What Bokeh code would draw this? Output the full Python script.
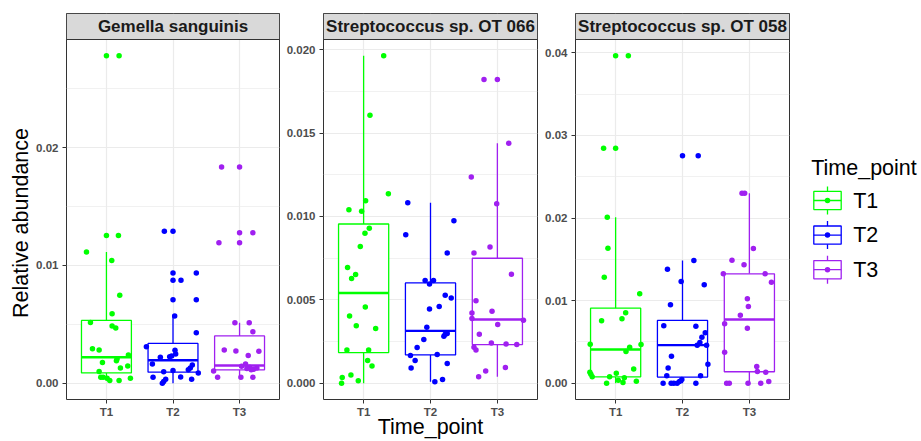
import numpy as np
from bokeh.plotting import figure
from bokeh.models import (Range1d, FixedTicker, PrintfTickFormatter, BoxAnnotation,
                          Label, ColumnDataSource)
from bokeh.layouts import row
from bokeh.embed import file_html
from bokeh.resources import INLINE
from bokeh.core.properties import value

# ---------------- data ----------------
time_points = ["T1", "T2", "T3"]
tp_colors = ["#00FF00", "#0000FF", "#A020F0"]
legend_title = "Time_point"
y_title = "Relative abundance"
x_title = "Time_point"

# Panel 1: Gemella sanguinis
gs_name = "Gemella sanguinis"
gs_T1 = [0.0278, 0.01254, 0.01113, 0.01042, 0.00747, 0.00589, 0.00516, 0.00485, 0.00468,
         0.00293, 0.00282, 0.00240, 0.00208, 0.00191, 0.00175, 0.00146, 0.00129, 0.00098,
         0.00051, 0.00051, 0.00042, 0.00022, 0.00022, 0.00042]
gs_T1_jit = [0.19, 0.18, -0.30, 0.08, 0.20, 0.085, -0.24, 0.085, 0.14,
             -0.21, -0.11, 0.33, 0.16, 0.15, -0.06, 0.32, 0.21, -0.11,
             -0.085, -0.05, 0.01, 0.05, 0.19, 0.36]
gs_T2 = [0.0129, 0.00936, 0.00873, 0.00709, 0.0057, 0.00428, 0.00310, 0.00279, 0.00248,
         0.00231, 0.00225, 0.0022, 0.00163, 0.00155, 0.00129, 0.00113, 0.00096, 0.00107,
         0.00087, 0.00051, 0.00053, 0.00034, 0.00034, 0.00014, 0.0]
gs_T2_jit = [-0.13, 0.35, 0.12, 0.35, 0.025, 0.35, -0.40, 0.03, 0.04,
             -0.02, -0.05, -0.19, -0.31, 0.29, 0.26, 0.23, -0.14, 0.0,
             0.38, -0.30, 0.115, 0.28, -0.11, -0.14, -0.16]
gs_T3 = [0.01836, 0.01277, 0.01193, 0.00513, 0.00513, 0.00437, 0.00282, 0.00273, 0.0027,
         0.00234, 0.00163, 0.00144, 0.00135, 0.00118, 0.00129, 0.00113, 0.00124, 0.00104,
         0.00051, 0.00051, 0.00051]
gs_T3_jit = [-0.27, 0.20, -0.31, -0.07, 0.145, 0.20, -0.23, -0.055, 0.29,
             0.13, 0.09, 0.03, 0.15, 0.21, 0.26, 0.175, 0.11, -0.39,
             -0.33, 0.02, 0.20]
gs_q1 = [0.00087, 0.00093, 0.00113]
gs_med = [0.0022, 0.00195, 0.0015]
gs_q3 = [0.00533, 0.00337, 0.00401]
gs_wlo = [0.00022, 0.0, 0.00051]
gs_whi = [0.01113, 0.0057, 0.00513]
gs_ticks = [0.0, 0.01, 0.02]
gs_minor = [0.005, 0.015, 0.025]

# Panel 2: Streptococcus sp. OT 066
s66_name = "Streptococcus sp. OT 066"
s66_T1 = [0.01962, 0.01607, 0.01136, 0.01094, 0.01041, 0.01032, 0.00929, 0.00899, 0.00821,
          0.00694, 0.00652, 0.00628, 0.00458, 0.00404, 0.00345, 0.00329, 0.00201, 0.00201,
          0.00138, 0.00105, 0.0005, 0.00036, 0.00016, 0.00002]
s66_T1_jit = [0.30, 0.095, 0.37, 0.03, -0.22, -0.03, 0.085, 0.02, -0.05,
              -0.24, -0.12, -0.18, 0.025, -0.21, -0.11, 0.18, -0.25, 0.075,
              0.06, 0.125, -0.19, -0.32, -0.08, -0.33]
s66_T2 = [0.01083, 0.00975, 0.00891, 0.00781, 0.00616, 0.00616, 0.00596, 0.00528, 0.00512,
          0.00461, 0.00446, 0.00337, 0.00295, 0.00299, 0.00283, 0.00263, 0.00215, 0.00173,
          0.00167, 0.00138, 0.0012, 0.00093, 0.00024, 0.0001]
s66_T2_jit = [-0.34, 0.35, -0.37, 0.25, -0.08, 0.045, -0.015, 0.22, 0.31,
              0.13, -0.015, -0.055, 0.22, 0.25, 0.20, -0.10, -0.20, 0.10,
              -0.30, -0.23, 0.25, -0.29, 0.18, 0.065]
s66_T3 = [0.0182, 0.01439, 0.01236, 0.01077, 0.00817, 0.00781, 0.00654, 0.00496, 0.00432,
          0.00422, 0.00389, 0.00379, 0.00353, 0.00295, 0.00243, 0.00237, 0.00233, 0.00217,
          0.00201, 0.00096, 0.00075, 0.0004]
s66_T3_jit = [-0.20, 0.17, -0.39, -0.01, -0.11, -0.35, 0.21, -0.32, -0.08,
              -0.38, -0.38, 0.39, 0.005, -0.27, -0.09, 0.13, 0.29, -0.35,
              -0.32, 0.12, -0.175, -0.28]
s66_q1 = [0.00185, 0.00171, 0.00233]
s66_med = [0.00542, 0.00315, 0.00383]
s66_q3 = [0.00955, 0.00602, 0.0075]
s66_wlo = [0.00002, 0.0001, 0.0004]
s66_whi = [0.01962, 0.01083, 0.01439]
s66_ticks = [0.0, 0.005, 0.010, 0.015, 0.020]
s66_minor = [0.0025, 0.0075, 0.0125, 0.0175]

# Panel 3: Streptococcus sp. OT 058
s58_name = "Streptococcus sp. OT 058"
s58_T1 = [0.03964, 0.02845, 0.0201, 0.01634, 0.01283, 0.01082, 0.00852, 0.00779, 0.00755,
          0.00472, 0.00468, 0.00436, 0.00384, 0.0017, 0.00133, 0.00109, 0.00077, 0.00077,
          0.00121, 0.00065, 0.00036, 0.00008, 0.00024, 0.0]
s58_T1_jit = [0.19, -0.18, -0.125, -0.115, -0.17, 0.36, 0.15, 0.095, -0.21,
              -0.38, 0.38, 0.21, 0.155, 0.27, -0.385, -0.37, -0.35, -0.09,
              0.01, 0.13, 0.04, 0.11, 0.31, -0.135]
s58_T2 = [0.02753, 0.01486, 0.0138, 0.01231, 0.01191, 0.00949, 0.00695, 0.0069, 0.0061,
          0.00557, 0.00493, 0.0046, 0.0046, 0.0023, 0.00327, 0.00182, 0.0009, 0.0009,
          0.0, 0.0, 0.0, 0.0, 0.0002, 0.00045, 0.0]
s58_T2_jit = [0.235, 0.17, -0.225, -0.02, 0.325, -0.18, -0.28, 0.20, 0.34,
              0.29, 0.26, 0.22, 0.36, 0.38, -0.165, -0.215, -0.235, 0.27,
              -0.29, -0.17, -0.13, -0.08, -0.045, -0.01, 0.20]
s58_T3 = [0.023, 0.023, 0.01631, 0.01489, 0.01433, 0.01324, 0.01324, 0.01223, 0.01021,
          0.00929, 0.00823, 0.00719, 0.00666, 0.00375, 0.00202, 0.00142, 0.00133, 0.0,
          0.0, 0.0, 0.0, 0.0002]
s58_T3_jit = [-0.11, -0.07, 0.06, -0.26, -0.08, -0.39, 0.235, 0.33, -0.03,
              -0.015, -0.135, -0.37, -0.03, -0.37, 0.11, 0.12, 0.245, -0.34,
              -0.30, -0.02, 0.17, 0.29]
s58_q1 = [0.00077, 0.00073, 0.00138]
s58_med = [0.00408, 0.0046, 0.00771]
s58_q3 = [0.00908, 0.00759, 0.01324]
s58_wlo = [0.0, 0.0, 0.0]
s58_whi = [0.0201, 0.01486, 0.023]
s58_ticks = [0.0, 0.01, 0.02, 0.03, 0.04]
s58_minor = [0.005, 0.015, 0.025, 0.035]

# ---------------- layout / style constants ----------------
FONT = "Liberation Sans"
FIG_H = 441
TOP_B = 13
BOT_B = 42
FRAME_H = FIG_H - TOP_B - BOT_B
STRIP_H = 26
DATA_H = FRAME_H - STRIP_H
FRAME_W = 214
BOX_HALF = 0.375
PT_SIZE = 5.5
GRID_C = "#EBEBEB"
BORDER_C = "#333333"
TITLE_SIZE = "21.5px"


def build_panel(name, vals, jits, q1, med, q3, wlo, whi, ticks, minor, fmt, left_border):
    all_vals = np.concatenate([np.asarray(v, float) for v in vals] +
                              [np.asarray(a, float) for a in (q1, q3, wlo, whi)])
    lo, hi = all_vals.min(), all_vals.max()
    pad = 0.05 * (hi - lo)
    ylo, yhi = lo - pad, hi + pad
    ytop = yhi + (yhi - ylo) * STRIP_H / DATA_H

    f = figure(width=left_border + FRAME_W + 1, height=FIG_H,
               x_range=Range1d(0.4, 3.6), y_range=Range1d(ylo, ytop),
               output_backend="svg", toolbar_location=None, title=None,
               min_border_left=left_border, min_border_right=1,
               min_border_top=TOP_B, min_border_bottom=BOT_B,
               background_fill_color="white", border_fill_color="white",
               outline_line_color=BORDER_C, outline_line_width=1)

    xs = list(range(1, len(time_points) + 1))
    f.xaxis.ticker = FixedTicker(ticks=xs)
    f.xaxis.major_label_overrides = {x: t for x, t in zip(xs, time_points)}
    f.yaxis.ticker = FixedTicker(ticks=ticks, minor_ticks=minor)
    f.yaxis.formatter = PrintfTickFormatter(format=fmt)
    for ax in (f.xaxis, f.yaxis):
        ax.axis_line_color = None
        ax.major_tick_line_color = BORDER_C
        ax.major_tick_line_width = 1
        ax.major_tick_out = 4
        ax.major_tick_in = 0
        ax.minor_tick_line_color = None
        ax.major_label_text_font = FONT
        ax.major_label_text_font_size = "11.5px"
        ax.major_label_text_font_style = "bold"
        ax.major_label_text_color = "#4D4D4D"
    f.xaxis.major_label_standoff = 2
    f.yaxis.major_label_standoff = 4
    f.xgrid.grid_line_color = GRID_C
    f.xgrid.grid_line_width = 1.2
    f.ygrid.grid_line_color = GRID_C
    f.ygrid.grid_line_width = 1.2
    f.ygrid.minor_grid_line_color = GRID_C
    f.ygrid.minor_grid_line_width = 0.7

    src = ColumnDataSource(dict(
        x=xs, left=[x - BOX_HALF for x in xs], right=[x + BOX_HALF for x in xs],
        q1=q1, med=med, q3=q3, wlo=wlo, whi=whi, color=tp_colors))
    f.segment(x0="x", y0="q3", x1="x", y1="whi", line_color="color", line_width=1.3, source=src)
    f.segment(x0="x", y0="q1", x1="x", y1="wlo", line_color="color", line_width=1.3, source=src)
    f.quad(left="left", right="right", bottom="q1", top="q3", fill_color="white",
           line_color="color", line_width=1.3, source=src)
    f.segment(x0="left", y0="med", x1="right", y1="med", line_color="color",
              line_width=2.4, source=src)

    # outliers drawn by the boxplot at the category centre
    ox, oy, oc = [], [], []
    for i, v in enumerate(vals):
        for y in v:
            if y > whi[i] or y < wlo[i]:
                ox.append(xs[i]); oy.append(y); oc.append(tp_colors[i])
    f.scatter(x=ox, y=oy, color=oc, size=PT_SIZE, line_color=None)

    # jittered points
    jx, jy, jc = [], [], []
    for i, (v, j) in enumerate(zip(vals, jits)):
        for y, d in zip(v, j):
            jx.append(xs[i] + d); jy.append(y); jc.append(tp_colors[i])
    f.scatter(x=jx, y=jy, color=jc, size=PT_SIZE, line_color=None)

    # facet strip
    f.add_layout(BoxAnnotation(bottom=yhi, fill_color="#D9D9D9", fill_alpha=1.0,
                               line_color=BORDER_C, line_alpha=1.0, line_width=1))
    f.add_layout(Label(x=2, y=(yhi + ytop) / 2, text=name, text_font=FONT,
                       text_font_size="17px", text_font_style="bold", text_color="#1A1A1A",
                       text_align="center", text_baseline="middle"))
    return f, ylo, yhi


def blank_fig(width, height, x_range, y_range, top=0, bottom=0, left=0, right=0):
    b = figure(width=width, height=height, output_backend="svg", toolbar_location=None,
               title=None, x_range=x_range, y_range=y_range,
               x_axis_location=None, y_axis_location=None,
               min_border_left=left, min_border_right=right,
               min_border_top=top, min_border_bottom=bottom,
               outline_line_color=None, background_fill_color="white",
               border_fill_color="white")
    b.grid.visible = False
    return b


f1, ylo1, yhi1 = build_panel(gs_name, [gs_T1, gs_T2, gs_T3], [gs_T1_jit, gs_T2_jit, gs_T3_jit],
                             gs_q1, gs_med, gs_q3, gs_wlo, gs_whi, gs_ticks, gs_minor, "%.2f", 32)
f2, ylo2, yhi2 = build_panel(s66_name, [s66_T1, s66_T2, s66_T3], [s66_T1_jit, s66_T2_jit, s66_T3_jit],
                             s66_q1, s66_med, s66_q3, s66_wlo, s66_whi, s66_ticks, s66_minor, "%.3f", 43)
f3, ylo3, yhi3 = build_panel(s58_name, [s58_T1, s58_T2, s58_T3], [s58_T1_jit, s58_T2_jit, s58_T3_jit],
                             s58_q1, s58_med, s58_q3, s58_wlo, s58_whi, s58_ticks, s58_minor, "%.2f", 37)

# shared x-axis title under the middle panel
f2.xaxis.axis_label = x_title
f2.xaxis.axis_label_text_font = FONT
f2.xaxis.axis_label_text_font_size = TITLE_SIZE
f2.xaxis.axis_label_text_font_style = "normal"
f2.xaxis.axis_label_text_color = "black"
f2.xaxis.axis_label_standoff = -6

# y-axis title strip (shares the first panel's y scale)
YT_W = 33
fy = blank_fig(YT_W, FIG_H, Range1d(0, YT_W), f1.y_range, top=TOP_B, bottom=BOT_B)
fy.add_layout(Label(x=20, y=(ylo1 + yhi1) / 2, y_offset=-3.5, angle=np.pi / 2,
                    text=y_title, text_font=FONT, text_font_size=TITLE_SIZE, text_color="black",
                    text_align="center", text_baseline="middle"))

# ---------------- legend panel ----------------
LEG_W = 131
KEY_X = 37.0
KEY_HALF_W = 13.7
KEY_PX = 34.6                     # vertical distance between keys (px)
FIRST_KEY_PX = 200.0 - TOP_B      # first key centre from frame top (px)
box_half_h = 9.1 / KEY_PX
whisk_half_h = 14.0 / KEY_PX

fl = blank_fig(LEG_W, FIG_H, Range1d(0, LEG_W),
               Range1d((FRAME_H - FIRST_KEY_PX) / KEY_PX, -FIRST_KEY_PX / KEY_PX),
               top=TOP_B, bottom=BOT_B)
idx = list(range(len(time_points)))
lsrc = ColumnDataSource(dict(
    y=idx, x=[KEY_X] * len(idx),
    left=[KEY_X - KEY_HALF_W] * len(idx), right=[KEY_X + KEY_HALF_W] * len(idx),
    bot=[i + box_half_h for i in idx], top=[i - box_half_h for i in idx],
    wb=[i + whisk_half_h for i in idx], wt=[i - whisk_half_h for i in idx],
    color=tp_colors, label=time_points, lx=[62.7] * len(idx)))
fl.segment(x0="x", y0="wb", x1="x", y1="wt", line_color="color", line_width=1.3, source=lsrc)
fl.quad(left="left", right="right", bottom="bot", top="top", fill_color="white",
        line_color="color", line_width=1.3, source=lsrc)
fl.segment(x0="left", y0="y", x1="right", y1="y", line_color="color", line_width=1.3, source=lsrc)
fl.scatter(x="x", y="y", color="color", size=PT_SIZE, line_color=None, source=lsrc)
fl.text(x="lx", y="y", text="label", text_font=value(FONT), text_font_size=TITLE_SIZE,
        text_color="black", text_align="left", text_baseline="middle", source=lsrc)
fl.add_layout(Label(x=20.7, y=(167.3 - 200.0) / KEY_PX, text=legend_title, text_font=FONT,
                    text_font_size=TITLE_SIZE, text_color="black", text_align="left",
                    text_baseline="alphabetic"))

layout = row(fy, f1, f2, f3, fl)
open("out.html", "w").write(file_html(layout, INLINE))
